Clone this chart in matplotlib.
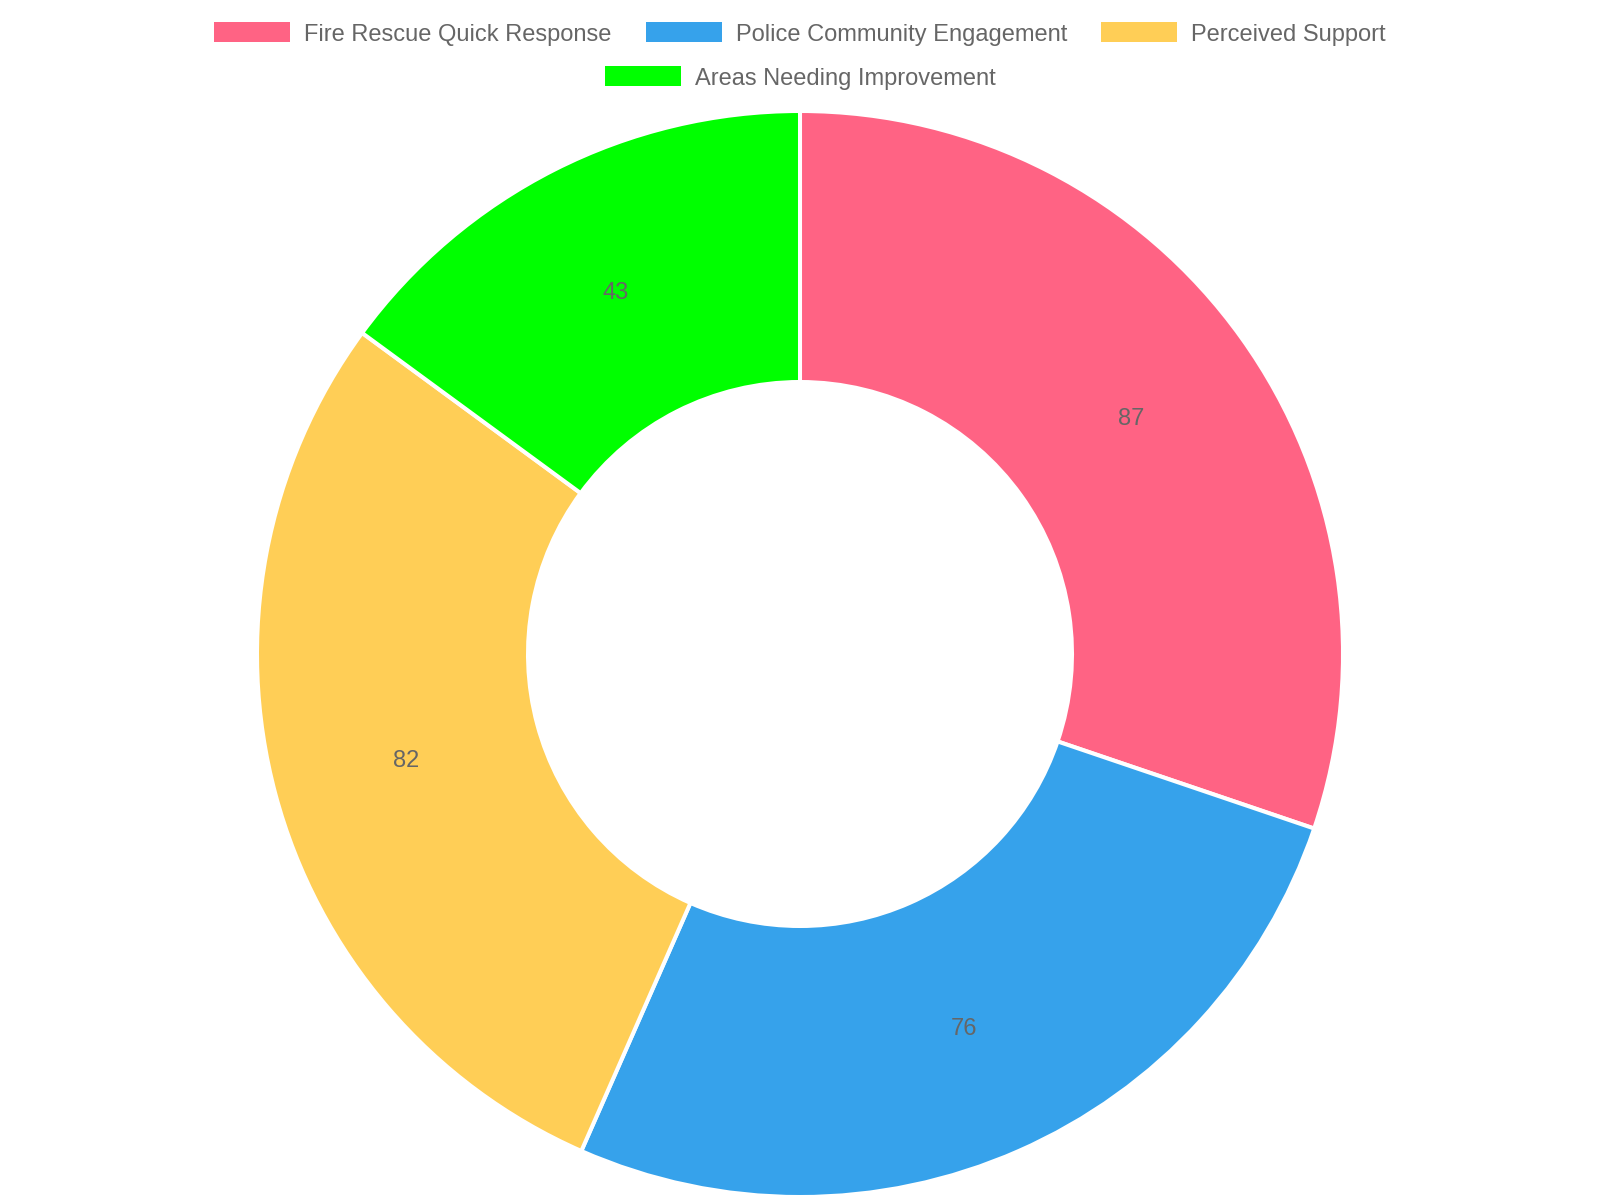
import matplotlib
matplotlib.use("Agg")
import matplotlib.pyplot as plt
from matplotlib.patches import Rectangle
import numpy as np

# Chart data
labels = ["Fire Rescue Quick Response", "Police Community Engagement",
          "Perceived Support", "Areas Needing Improvement"]
values = [87, 76, 82, 43]
colors = ["#FF6384", "#36A2EB", "#FFCE56", "#00FF00"]

plt.rcParams['font.family'] = ['Liberation Sans', 'DejaVu Sans']
text_color = "#666666"

W, H = 1600, 1200
fig = plt.figure(figsize=(16, 12), dpi=100)
ax = fig.add_axes([0, 0, 1, 1])

# donut, pixel coordinates with y measured from bottom
cx, cy = 800, H - 654
r_out = 543
width = 271

wedges, _ = ax.pie(values, colors=colors, startangle=90, counterclock=False,
                   center=(cx, cy), radius=r_out, frame=True,
                   wedgeprops=dict(width=width, edgecolor='white', linewidth=2.9))
ax.set_xlim(0, W)
ax.set_ylim(0, H)
ax.set_aspect('equal')
ax.axis('off')

# value labels at middle of each ring segment
total = sum(values)
start = 0
r_mid = r_out - width / 2
for v in values:
    mid = (start + v / 2) / total * 2 * np.pi
    x = cx + r_mid * np.sin(mid)
    y = cy + r_mid * np.cos(mid) - 2
    ax.text(x, y, str(v), ha='center', va='center', fontsize=17, color=text_color)
    start += v

# legend, laid out by hand so the last row is centred
box_w, box_h = 76, 20
gap = 14
pad = 34
font_pt = 17
rows = [[0, 1, 2], [3]]
row_y = [32, 76]

fig.canvas.draw()
renderer = fig.canvas.get_renderer()

def text_width(s):
    t = ax.text(0, 0, s, fontsize=font_pt)
    w = t.get_window_extent(renderer).width
    t.remove()
    return w

for row, yc in zip(rows, row_y):
    widths = [box_w + gap + text_width(labels[i]) for i in row]
    total_w = sum(widths) + pad * (len(row) - 1)
    x = cx - total_w / 2
    for i, w in zip(row, widths):
        y = H - yc
        ax.add_patch(Rectangle((x, y - box_h / 2), box_w, box_h,
                               facecolor=colors[i], edgecolor='none'))
        ax.text(x + box_w + gap, y, labels[i], ha='left', va='center_baseline',
                fontsize=font_pt, color=text_color)
        x += w + pad

fig.savefig("out.png", dpi=100, facecolor='white')
